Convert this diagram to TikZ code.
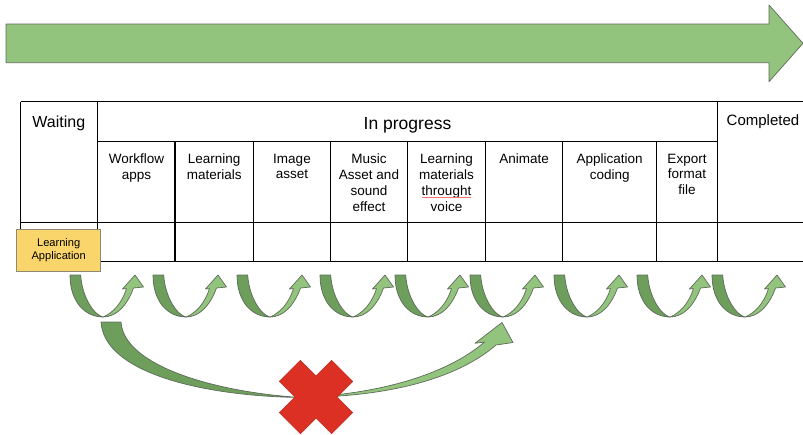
\documentclass[tikz,border=0pt]{standalone}
\usepackage{fontspec}
\setmainfont{Liberation Sans}
\definecolor{arrowgreen}{HTML}{93C47D}
\definecolor{backgreen}{HTML}{6E9E5C}
\definecolor{edgegray}{HTML}{5E6B5A}
\definecolor{crossred}{HTML}{DD3024}
\definecolor{cardyellow}{HTML}{F9D56B}
\definecolor{cardedge}{HTML}{8E8A70}
\begin{document}
\begin{tikzpicture}[x=1pt,y=-1pt,
  gridline/.style={line width=1.5pt, black},
  shapeedge/.style={draw=edgegray, line width=0.7pt, line join=round},
  colhead/.style={anchor=north, inner sep=0pt, align=center,
    font=\fontsize{13.5}{15.8}\selectfont},
  uturn/.pic={
    % darker back band, from the top left down to the bottom of the bend
    \path[fill=backgreen, shapeedge] (0,0) .. controls (0,28) and (16,42) .. (33,42)
      .. controls (24,40) and (12,22) .. (10.7,0) -- cycle;
    % lighter front band rising to the arrow head
    \path[fill=arrowgreen, shapeedge] (33,42) .. controls (46,42) and (57,31) .. (63.5,13)
      -- (73.5,12) -- (65,0) -- (52.5,14) -- (56.5,13.6)
      .. controls (52,28) and (43,38) .. (33,42) -- cycle;
  }]
\useasboundingbox (0,0) rectangle (803,434);

% progress arrow along the top
\path[fill=arrowgreen, shapeedge] (6,24) -- (769,24) -- (769,5) -- (803,43.3)
  -- (769,81.7) -- (769,62.7) -- (6,62.7) -- cycle;

% board grid
\draw[gridline] (20.7,101.7) -- (803,101.7);
\draw[gridline] (97.7,141.7) -- (717.3,141.7);
\draw[gridline] (20.7,222.3) -- (803,222.3);
\draw[gridline] (20.7,261.7) -- (803,261.7);
\draw[gridline] (20.7,101.7) -- (20.7,261.7);
\draw[gridline] (97.7,101.7) -- (97.7,261.7);
\draw[gridline] (717.3,101.7) -- (717.3,261.7);
\foreach \cx in {175,253.3,330.7,407.3,485.7,562.7,656.7}
  \draw[gridline] (\cx,141.7) -- (\cx,261.7);

% column titles
\node[anchor=base, inner sep=0pt, font=\fontsize{16}{19}\selectfont] (waiting) at (58.8,127.3) {Waiting};
\node[anchor=base, inner sep=0pt, font=\fontsize{17.5}{21}\selectfont] (progress) at (407.5,129) {In progress};
\node[anchor=base, inner sep=0pt, font=\fontsize{15}{18}\selectfont] (completed) at (763,125) {Completed};

% stage titles
\node[colhead] (s1) at (136.4,153.7) {Workflow\\apps};
\node[colhead] (s2) at (214.2,153.7) {Learning\\materials};
\node[colhead] (s3) at (292,153.7) {Image\\asset};
\node[colhead] (s4) at (369,153.7) {Music\\Asset and\\sound\\effect};
\node[colhead] (s5) at (446.5,153.7) {Learning\\materials\\throught\\voice};
\node[colhead] (s6) at (524.2,153.7) {Animate};
\node[colhead] (s7) at (609.7,153.7) {Application\\coding};
\node[colhead] (s8) at (687,153.7) {Export\\format\\file};
% spell-check underline
\draw[red!55!white, line width=0.6pt] (421.7,196.8) -- (470.7,196.8);

% task card
\node[draw=cardedge, fill=cardyellow, line width=0.8pt, minimum width=84pt,
  minimum height=42pt, inner sep=0pt, align=center,
  font=\fontsize{11.1}{13.7}\selectfont] (card) at (58.7,250) {Learning\\Application};

% step-by-step hand-offs
\foreach \ux in {70,153,237,320,395,470,554,637,712}
  \pic at (\ux,275) {uturn};

% skipped hand-off
\path[fill=backgreen, shapeedge] (101,322) .. controls (104,372) and (200,396) .. (300,397.5)
  .. controls (215,392) and (124,366) .. (121,322) -- cycle;
\path[fill=arrowgreen, shapeedge] (300,397.5) .. controls (390,397) and (458,378) .. (496,345)
  -- (513,342.5) -- (502,322.5) -- (475,343.3) -- (484.5,342)
  .. controls (450,372) and (385,394) .. (300,397.5) -- cycle;

% cross
\begin{scope}[shift={(316,397)}, rotate=45]
  \path[fill=crossred, draw=crossred!80!black, line width=0.4pt]
    (15,15) -- (37,15) -- (37,-15) -- (15,-15) -- (15,-37) -- (-15,-37)
    -- (-15,-15) -- (-37,-15) -- (-37,15) -- (-15,15) -- (-15,37) -- (15,37) -- cycle;
\end{scope}
\end{tikzpicture}
\end{document}
